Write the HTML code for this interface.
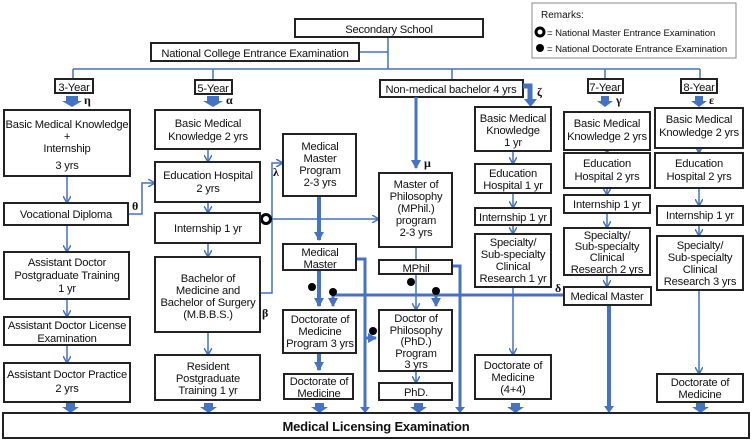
<!DOCTYPE html>
<html><head><meta charset="utf-8"><style>
html,body{margin:0;padding:0;background:#fff}
svg{display:block}
text{font-family:"Liberation Sans",Arial,sans-serif;font-size:11.2px;letter-spacing:-0.2px;fill:#111;text-anchor:middle}
.g{font-family:"Liberation Serif",serif;font-weight:bold;font-size:12px;text-anchor:start;letter-spacing:0}
rect.b{fill:#fff;stroke:#222;stroke-width:2}
.l{stroke:#4472c4;stroke-width:1.5;fill:none}
.t{stroke:#4472c4;stroke-width:4;fill:none}
.m{stroke:#4472c4;stroke-width:3;fill:none}
</style></head><body>
<svg width="753" height="442" viewBox="0 0 753 442" xmlns="http://www.w3.org/2000/svg">
<defs>
<marker id="a" markerWidth="8" markerHeight="8" refX="6" refY="4" orient="auto" markerUnits="userSpaceOnUse"><path d="M0,0 L7,4 L0,8" fill="none" stroke="#4472c4" stroke-width="1.5"/></marker>
<marker id="ta" markerWidth="12" markerHeight="10" refX="8" refY="5" orient="auto" markerUnits="userSpaceOnUse"><path d="M0,0 L9,5 L0,10 Z" fill="#4472c4"/></marker>
</defs>
<path class="l" d="M388,37 V69 M359,52 H388 M73,69 H700 M73,69 V79 M213,69 V80 M452,69 V80 M605,69 V79 M700,69 V79"/>
<rect x="532" y="3" width="204" height="55" fill="#fff" stroke="#888" stroke-width="1"/>
<text x="541" y="18" style="text-anchor:start;font-size:10px;letter-spacing:0">Remarks:</text>
<circle cx="540" cy="32" r="4" fill="#fff" stroke="#000" stroke-width="3"/>
<text x="547" y="36" style="text-anchor:start;font-size:9.6px;letter-spacing:-0.1px">= National Master Entrance Examination</text>
<circle cx="540" cy="48" r="4" fill="#000"/>
<text x="547" y="52" style="text-anchor:start;font-size:9.6px;letter-spacing:-0.1px">= National Doctorate Entrance Examination</text>
<rect class="b" x="295" y="19" width="188" height="18"/><text x="389" y="33">Secondary School</text>
<rect class="b" x="151" y="43" width="208" height="18"/><text x="255" y="57">National College Entrance Examination</text>
<rect class="b" x="55" y="79" width="38" height="14"/><text x="74" y="91">3-Year</text>
<rect class="b" x="195" y="80" width="37" height="14"/><text x="213" y="92">5-Year</text>
<rect class="b" x="380" y="80" width="143" height="17"/><text x="451" y="93">Non-medical bachelor 4 yrs</text>
<rect class="b" x="588" y="79" width="35" height="14"/><text x="605" y="91">7-Year</text>
<rect class="b" x="681" y="79" width="36" height="14"/><text x="699" y="91">8-Year</text>
<g fill="#4472c4">
<path d="M66,96 h12 v5 h4 l-10,6 l-10,-6 h4 z"/>
<path d="M207,96 h12 v5 h4 l-10,6 l-10,-6 h4 z"/>
<path d="M601,96 h8 v5 h4 l-8,6 l-8,-6 h4 z"/>
<path d="M695,96 h8 v5 h4 l-8,6 l-8,-6 h4 z"/>
</g>
<text class="g" x="84" y="104">η</text><text class="g" x="226" y="104">α</text>
<text class="g" x="616" y="104">γ</text><text class="g" x="709" y="104">ε</text>
<text class="g" x="537" y="96">ζ</text><text class="g" x="424" y="167">μ</text>
<text class="g" x="132" y="210">θ</text><text class="g" x="273" y="176">λ</text>
<text class="g" x="262" y="317">β</text><text class="g" x="555" y="292">δ</text>
<path d="M523,86 H530 V100" fill="none" stroke="#4472c4" stroke-width="5"/>
<path d="M524,99 h13 l-6.5,8 z" fill="#4472c4"/>
<path class="m" d="M416,97 V168" marker-end="url(#ta)"/>
<path class="l" marker-end="url(#a)" d="M67,176 V202"/>
<path class="l" marker-end="url(#a)" d="M67,225 V251"/>
<path class="l" marker-end="url(#a)" d="M67,299 V316"/>
<path class="l" marker-end="url(#a)" d="M67,345 V362"/>
<path class="l" marker-end="url(#a)" d="M128,214 H142 V183 H154"/>
<path class="l" marker-end="url(#a)" d="M208,149 V161"/>
<path class="l" marker-end="url(#a)" d="M208,202 V212"/>
<path class="l" marker-end="url(#a)" d="M208,243 V256"/>
<path class="l" marker-end="url(#a)" d="M208,332 V354"/>
<path class="l" marker-end="url(#a)" d="M260,293 H272 V163 H282"/>
<path class="l" marker-end="url(#a)" d="M262,219 H378"/>
<circle cx="266" cy="219" r="4.5" fill="#fff" stroke="#000" stroke-width="3"/>
<path class="l" d="M416,247 V260"/>
<path class="l" marker-end="url(#a)" d="M416,274 V309"/>
<path class="l" marker-end="url(#a)" d="M416,371 V382"/>
<path class="l" marker-end="url(#a)" d="M513,151 V163"/>
<path class="l" marker-end="url(#a)" d="M513,193 V207"/>
<path class="l" marker-end="url(#a)" d="M513,225 V233"/>
<path class="l" marker-end="url(#a)" d="M513,287 V354"/>
<path class="l" marker-end="url(#a)" d="M607,150 V152"/>
<path class="l" marker-end="url(#a)" d="M607,188 V194"/>
<path class="l" marker-end="url(#a)" d="M607,213 V227"/>
<path class="l" marker-end="url(#a)" d="M607,275 V286"/>
<path class="l" marker-end="url(#a)" d="M699,148 V152"/>
<path class="l" marker-end="url(#a)" d="M699,188 V205"/>
<path class="l" marker-end="url(#a)" d="M699,225 V235"/>
<path class="l" marker-end="url(#a)" d="M699,290 V373"/>
<path class="t" marker-end="url(#ta)" d="M319,196 V240"/>
<path class="t" marker-end="url(#ta)" d="M319,270 V306"/>
<path class="t" marker-end="url(#ta)" d="M319,353 V370"/>
<path class="m" d="M356,259 H365 V410"/>
<path class="m" d="M452,266 H460 V410"/>
<path class="m" d="M333,295 H564"/>
<path class="m" marker-end="url(#ta)" d="M333,295 V306"/>
<path class="m" marker-end="url(#ta)" d="M436,295 V306"/>
<path class="m" marker-end="url(#ta)" d="M365,338 H376"/>
<path class="t" d="M609,305 V410"/>
<path d="M360,407 h10 l-5,6 z M455,407 h10 l-5,6 z M604,406 h10 l-5,7 z" fill="#4472c4"/>
<circle cx="312" cy="287" r="4" fill="#000"/><circle cx="333" cy="292" r="4" fill="#000"/>
<circle cx="411" cy="282" r="4" fill="#000"/><circle cx="436" cy="291" r="4" fill="#000"/>
<circle cx="373" cy="331" r="4" fill="#000"/>
<rect class="b" x="4" y="110" width="126" height="66"/>
<text x="67" y="128">Basic Medical Knowledge</text><text x="67" y="140">+</text><text x="67" y="152">Internship</text><text x="67" y="169">3 yrs</text>
<rect class="b" x="4" y="203" width="124" height="22"/><text x="66" y="218">Vocational Diploma</text>
<rect class="b" x="4" y="252" width="125" height="47"/><text x="67" y="266">Assistant Doctor</text><text x="67" y="279">Postgraduate Training</text><text x="67" y="292">1 yr</text>
<rect class="b" x="4" y="317" width="126" height="28"/><text x="67" y="329">Assistant Doctor License</text><text x="67" y="342">Examination</text>
<rect class="b" x="4" y="363" width="126" height="39"/><text x="67" y="378">Assistant Doctor Practice</text><text x="67" y="392">2 yrs</text>
<rect class="b" x="155" y="110" width="105" height="39"/><text x="208" y="127">Basic Medical</text><text x="208" y="140">Knowledge 2 yrs</text>
<rect class="b" x="155" y="162" width="105" height="40"/><text x="208" y="179">Education Hospital</text><text x="208" y="192">2 yrs</text>
<rect class="b" x="155" y="213" width="105" height="30"/><text x="208" y="232">Internship 1 yr</text>
<rect class="b" x="155" y="257" width="105" height="75"/><text x="208" y="282">Bachelor of</text><text x="208" y="294">Medicine and</text><text x="208" y="306">Bachelor of Surgery</text><text x="208" y="318">(M.B.B.S.)</text>
<rect class="b" x="155" y="355" width="105" height="45"/><text x="208" y="370">Resident</text><text x="208" y="382">Postgraduate</text><text x="208" y="394">Training 1 yr</text>
<rect class="b" x="283" y="134" width="73" height="62"/><text x="320" y="150">Medical</text><text x="320" y="162">Master</text><text x="320" y="174">Program</text><text x="320" y="186">2-3 yrs</text>
<rect class="b" x="283" y="244" width="73" height="26"/><text x="320" y="256">Medical</text><text x="320" y="268">Master</text>
<rect class="b" x="283" y="310" width="73" height="43"/><text x="320" y="323">Doctorate of</text><text x="320" y="335">Medicine</text><text x="320" y="347">Program 3 yrs</text>
<rect class="b" x="284" y="374" width="69" height="25"/><text x="319" y="385">Doctorate of</text><text x="319" y="397">Medicine</text>
<rect class="b" x="379" y="173" width="73" height="74"/><text x="416" y="188">Master of</text><text x="416" y="200">Philosophy</text><text x="416" y="212">(MPhil.)</text><text x="416" y="224">program</text><text x="416" y="236">2-3 yrs</text>
<rect class="b" x="379" y="260" width="73" height="14"/><text x="416" y="272">MPhil</text>
<rect class="b" x="379" y="310" width="73" height="61"/><text x="416" y="322">Doctor of</text><text x="416" y="334">Philosophy</text><text x="416" y="345">(PhD.)</text><text x="416" y="357">Program</text><text x="416" y="368">3 yrs</text>
<rect class="b" x="379" y="383" width="73" height="17"/><text x="416" y="396">PhD.</text>
<rect class="b" x="475" y="107" width="76" height="44"/><text x="513" y="122">Basic Medical</text><text x="513" y="134">Knowledge</text><text x="513" y="146">1 yr</text>
<rect class="b" x="475" y="164" width="76" height="29"/><text x="513" y="177">Education</text><text x="513" y="189">Hospital 1 yr</text>
<rect class="b" x="475" y="208" width="76" height="17"/><text x="513" y="221">Internship 1 yr</text>
<rect class="b" x="475" y="234" width="76" height="53"/><text x="513" y="246">Specialty/</text><text x="513" y="258">Sub-specialty</text><text x="513" y="270">Clinical</text><text x="513" y="282">Research 1 yr</text>
<rect class="b" x="475" y="355" width="76" height="44"/><text x="513" y="369">Doctorate of</text><text x="513" y="381">Medicine</text><text x="513" y="393">(4+4)</text>
<rect class="b" x="564" y="112" width="86" height="38"/><text x="607" y="127">Basic Medical</text><text x="607" y="140">Knowledge 2 yrs</text>
<rect class="b" x="564" y="153" width="86" height="35"/><text x="607" y="167">Education</text><text x="607" y="180">Hospital 2 yrs</text>
<rect class="b" x="564" y="195" width="86" height="18"/><text x="607" y="208">Internship 1 yr</text>
<rect class="b" x="564" y="228" width="86" height="47"/><text x="607" y="239">Specialty/</text><text x="607" y="250">Sub-specialty</text><text x="607" y="261">Clinical</text><text x="607" y="273">Research 2 yrs</text>
<rect class="b" x="564" y="287" width="87" height="18"/><text x="607" y="300">Medical Master</text>
<rect class="b" x="655" y="108" width="88" height="40"/><text x="699" y="123">Basic Medical</text><text x="699" y="136">Knowledge 2 yrs</text>
<rect class="b" x="655" y="153" width="88" height="35"/><text x="699" y="167">Education</text><text x="699" y="180">Hospital 2 yrs</text>
<rect class="b" x="657" y="206" width="86" height="19"/><text x="700" y="219">Internship 1 yr</text>
<rect class="b" x="657" y="236" width="86" height="54"/><text x="700" y="249">Specialty/</text><text x="700" y="261">Sub-specialty</text><text x="700" y="273">Clinical</text><text x="700" y="285">Research 3 yrs</text>
<rect class="b" x="657" y="374" width="86" height="28"/><text x="700" y="386">Doctorate of</text><text x="700" y="398">Medicine</text>
<g fill="#4472c4">
<path d="M66,403 h9 v4 h4 l-8.5,6 l-8.5,-6 h4 z"/>
<path d="M204,403 h9 v4 h4 l-8.5,6 l-8.5,-6 h4 z"/>
<path d="M315,403 h9 v4 h4 l-8.5,6 l-8.5,-6 h4 z"/>
<path d="M414,403 h9 v4 h4 l-8.5,6 l-8.5,-6 h4 z"/>
<path d="M511,403 h9 v4 h4 l-8.5,6 l-8.5,-6 h4 z"/>
<path d="M696,403 h9 v4 h4 l-8.5,6 l-8.5,-6 h4 z"/>
</g>
<rect class="b" x="3" y="413" width="746" height="25"/>
<text x="376" y="431" style="font-weight:bold;font-size:13px;letter-spacing:-0.2px">Medical Licensing Examination</text>
</svg>
</body></html>
